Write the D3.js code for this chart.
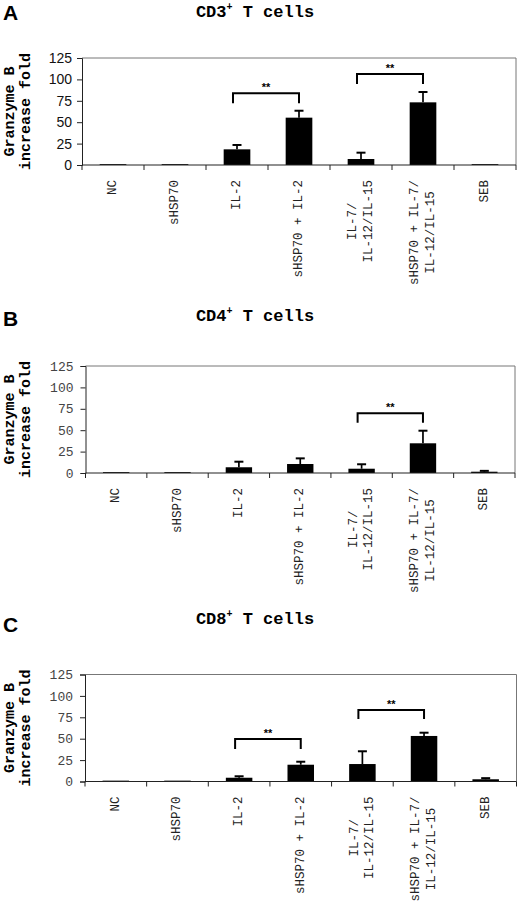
<!DOCTYPE html>
<html>
<head>
<meta charset="utf-8">
<script src="https://cdn.jsdelivr.net/npm/d3@7"></script>
<style>
  body { margin: 0; background: #fff; }
  svg { display: block; }
</style>
</head>
<body>
<svg id="chart" width="520" height="905"></svg>
<script>
// categories (line breaks as in the original labels)
const categories = [
  ['NC'],
  ['sHSP70'],
  ['IL-2'],
  ['sHSP70 + IL-2'],
  ['IL-7/', 'IL-12/IL-15'],
  ['sHSP70 + IL-7/', 'IL-12/IL-15'],
  ['SEB']
];
const yTicks = [0, 25, 50, 75, 100, 125];

// panel A: CD3+
const cd3Values = [1, 1, 18.3, 55.3, 7, 73.2, 1];
const cd3Errors = [0, 0, 5.1, 8.1, 7.4, 12.1, 0];
const cd3Brackets = [[2, 3, 83.8, 72.1], [4, 5, 106.3, 94.6]];

// panel B: CD4+
const cd4Values = [1, 1, 6.7, 10.5, 5, 34.7, 1.5];
const cd4Errors = [0, 0, 6.5, 6.6, 5.2, 14.7, 1];
const cd4Brackets = [[4, 5, 69.7, 58.8]];

// panel C: CD8+
const cd8Values = [1, 1, 4.4, 19.6, 20.4, 53.2, 2.6];
const cd8Errors = [0, 0, 1.7, 3.5, 14.9, 3.8, 1.3];
const cd8Brackets = [[2, 3, 49.6, 38], [4, 5, 83.5, 73]];

const mono = '"Liberation Mono", "Courier New", monospace';
const sans = '"Liberation Sans", Arial, sans-serif';

const panels = [
  { letter: 'A', marker: 'CD3', values: cd3Values, errors: cd3Errors, brackets: cd3Brackets,
    left: 82, right: 516, top: 58, bottom: 165, letterY: 20, titleY: 17, tickFont: sans, tickSize: 14, tickColor: '#111' },
  { letter: 'B', marker: 'CD4', values: cd4Values, errors: cd4Errors, brackets: cd4Brackets,
    left: 85.5, right: 515, top: 366, bottom: 473, letterY: 326, titleY: 321, tickFont: mono, tickSize: 13, tickColor: '#444' },
  { letter: 'C', marker: 'CD8', values: cd8Values, errors: cd8Errors, brackets: cd8Brackets,
    left: 85, right: 516.5, top: 674.5, bottom: 781.5, letterY: 632, titleY: 624, tickFont: mono, tickSize: 13, tickColor: '#444' }
];

const svg = d3.select('#chart');

panels.forEach((p) => {
  const g = svg.append('g');

  const x = d3.scaleBand()
    .domain(d3.range(categories.length))
    .range([p.left, p.right])
    .paddingInner(0.57)
    .paddingOuter(0.285);

  const y = d3.scaleLinear()
    .domain([0, 125])
    .range([p.bottom, p.top]);

  const half = (x.step() - x.bandwidth()) / 2;
  const cx = (i) => x(i) + x.bandwidth() / 2;

  // panel letter + title
  g.append('text')
    .attr('x', 3)
    .attr('y', p.letterY)
    .style('font-family', sans)
    .style('font-weight', 'bold')
    .style('font-size', '21px')
    .text(p.letter);

  const title = g.append('text')
    .attr('x', 255)
    .attr('y', p.titleY)
    .attr('text-anchor', 'middle')
    .style('font-family', mono)
    .style('font-weight', 'bold')
    .style('font-size', '17px');
  title.append('tspan').text(p.marker);
  title.append('tspan').attr('dy', -7).style('font-size', '10px').text('+');
  title.append('tspan').attr('dy', 7).text(' T cells');

  // frame (top + right, lighter)
  g.append('path')
    .attr('d', `M${p.left},${p.top}H${p.right}V${p.bottom}`)
    .attr('fill', 'none')
    .attr('stroke', '#777')
    .attr('stroke-width', 1);

  // y axis
  const yAxis = g.append('g')
    .attr('transform', `translate(${p.left},0)`)
    .call(d3.axisLeft(y).tickValues(yTicks).tickSize(5).tickPadding(p.tickFont === sans ? 5 : 7));
  yAxis.select('.domain').attr('stroke', '#222');
  yAxis.selectAll('.tick line').attr('stroke', '#222');
  yAxis.selectAll('text')
    .style('font-family', p.tickFont)
    .style('font-size', p.tickSize + 'px')
    .style('fill', p.tickColor);

  // y title
  const yMid = (p.top + p.bottom) / 2;
  [['Granzyme B', 10], ['increase fold', 26]].forEach(([t, tx]) => {
    g.append('text')
      .attr('transform', `translate(${tx},${yMid}) rotate(-90)`)
      .attr('text-anchor', 'middle')
      .attr('dominant-baseline', 'central')
      .style('font-family', mono)
      .style('font-weight', 'bold')
      .style('font-size', '15px')
      .text(t);
  });

  // bars
  g.selectAll('rect.bar')
    .data(p.values)
    .enter()
    .append('rect')
    .attr('class', 'bar')
    .attr('x', (d, i) => x(i))
    .attr('y', (d) => y(d))
    .attr('width', x.bandwidth())
    .attr('height', (d) => y(0) - y(d))
    .attr('fill', '#000');

  // error bars (upper only)
  p.values.forEach((v, i) => {
    const e = p.errors[i];
    if (!e) return;
    g.append('line')
      .attr('x1', cx(i)).attr('x2', cx(i))
      .attr('y1', y(v)).attr('y2', y(v + e))
      .attr('stroke', '#000').attr('stroke-width', 1.7);
    g.append('line')
      .attr('x1', cx(i) - 4.5).attr('x2', cx(i) + 4.5)
      .attr('y1', y(v + e)).attr('y2', y(v + e))
      .attr('stroke', '#000').attr('stroke-width', 2);
  });

  // x axis line + boundary ticks
  g.append('line')
    .attr('x1', p.left).attr('x2', p.right)
    .attr('y1', y(0)).attr('y2', y(0))
    .attr('stroke', '#222').attr('stroke-width', 1.2);
  const bounds = d3.range(categories.length).map((i) => x(i) - half).concat([p.right]);
  g.selectAll('line.xtick')
    .data(bounds)
    .enter()
    .append('line')
    .attr('class', 'xtick')
    .attr('x1', (d) => d).attr('x2', (d) => d)
    .attr('y1', y(0)).attr('y2', y(0) + 5)
    .attr('stroke', '#222');

  // category labels, rotated, top aligned, lines centred
  categories.forEach((lines, i) => {
    const lg = g.append('g');
    const texts = lines.map((t) => lg.append('text')
      .attr('text-anchor', 'middle')
      .attr('dominant-baseline', 'central')
      .style('font-family', mono)
      .style('font-size', '12.5px')
      .style('fill', '#222')
      .style('white-space', 'pre')
      .text(t));
    const w = d3.max(texts, (t) => t.node().getComputedTextLength());
    const top = y(0) + 15;
    texts.forEach((t, k) => {
      const off = (k - (lines.length - 1) / 2) * 15.6;
      t.attr('transform', `translate(${cx(i) + off},${top + w / 2}) rotate(-90)`);
    });
  });

  // significance brackets
  p.brackets.forEach(([a, b, yTop, yLeg]) => {
    const x1 = cx(a) - 4;
    const x2 = cx(b);
    g.append('path')
      .attr('d', `M${x1},${y(yLeg)}V${y(yTop)}H${x2}V${y(yLeg)}`)
      .attr('fill', 'none')
      .attr('stroke', '#000')
      .attr('stroke-width', 2);
    g.append('text')
      .attr('x', (x1 + x2) / 2)
      .attr('y', y(yTop) - 2)
      .attr('text-anchor', 'middle')
      .style('font-family', sans)
      .style('font-weight', 'bold')
      .style('font-size', '11px')
      .text('**');
  });
});
</script>
</body>
</html>
